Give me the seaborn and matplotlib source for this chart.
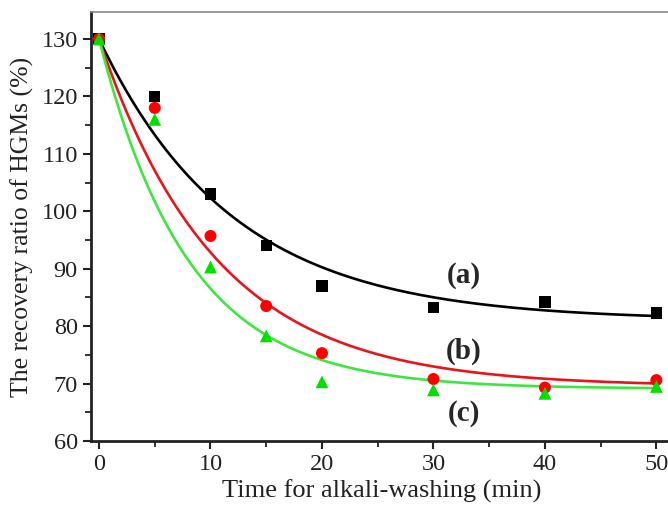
import numpy as np
import pandas as pd
import matplotlib
matplotlib.use("Agg")
import matplotlib.pyplot as plt
import seaborn as sns
from matplotlib.ticker import MultipleLocator

time_min = [0, 5, 10, 15, 20, 30, 40, 50]
recovery_a = [130, 120, 103, 94, 87, 83.3, 84.2, 82.3]
recovery_b = [130, 118, 95.7, 83.5, 75.3, 70.8, 69.3, 70.6]
recovery_c = [130, 116, 90.3, 78.3, 70.3, 68.9, 68.3, 69.5]
series_labels = ["(a)", "(b)", "(c)"]
# exponential-decay fit parameters
fit_plateau = [81.0, 69.5, 69.1]
fit_tau = [12.0, 10.5, 8.0]

sns.set_theme(style="ticks")
plt.rcParams['font.family'] = ['Liberation Serif', 'DejaVu Serif']
plt.rcParams['mathtext.fontset'] = 'stix'

fig = plt.figure(figsize=(6.68, 5.05), dpi=100)
ax = fig.add_axes([91/668, 64/505, (672-91)/668, (441-12)/505])

line_colors = ["#000000", "#e8141c", "#3fe63f"]
mark_colors = ["#000000", "#ff0000", "#00e000"]
markers = ["s", "o", "^"]
msizes = [65, 75, 85]

for vals, p, tau, lc, mc, mk, ms in zip([recovery_a, recovery_b, recovery_c], fit_plateau, fit_tau,
                                        line_colors, mark_colors, markers, msizes):
    tt = np.linspace(time_min[0], time_min[-1], 300)
    yy = p + (vals[0] - p) * np.exp(-tt / tau)
    sns.lineplot(x=tt, y=yy, ax=ax, color=lc, linewidth=1.9, zorder=2)
    df = pd.DataFrame({"t": time_min, "v": vals})
    sns.scatterplot(data=df, x="t", y="v", ax=ax, color=mc, marker=mk, s=ms,
                    edgecolor="none", zorder=3)

label_pos = [(32.7, 88.8), (32.7, 75.6), (32.7, 64.8)]
for lab, (px, py) in zip(series_labels, label_pos):
    ax.text(px, py, lab, fontsize=21, fontweight="bold", ha="center", va="center")

ax.set_xlim(-0.72, 51.4)
ax.set_ylim(60, 134.7)
ax.xaxis.set_major_locator(MultipleLocator(10))
ax.xaxis.set_minor_locator(MultipleLocator(5))
ax.yaxis.set_major_locator(MultipleLocator(10))
ax.yaxis.set_minor_locator(MultipleLocator(5))
ax.tick_params(which="major", direction="out", length=6, width=1.5, labelsize=17.5, colors="#222222", labelcolor="#222222")
ax.tick_params(which="minor", direction="out", length=4, width=1.3, colors="#222222")
ax.set_xlabel("Time for alkali-washing (min)", fontsize=19, color="#222222", labelpad=3)
ax.set_ylabel("The recovery ratio of HGMs (%)", fontsize=18.5, color="#222222", labelpad=5)

for side in ["left", "bottom"]:
    ax.spines[side].set_linewidth(2.0)
    ax.spines[side].set_color("#222222")
ax.spines["top"].set_linewidth(1.2)
ax.spines["top"].set_color("#888888")
ax.spines["right"].set_visible(False)

fig.savefig("out.png", dpi=100)
